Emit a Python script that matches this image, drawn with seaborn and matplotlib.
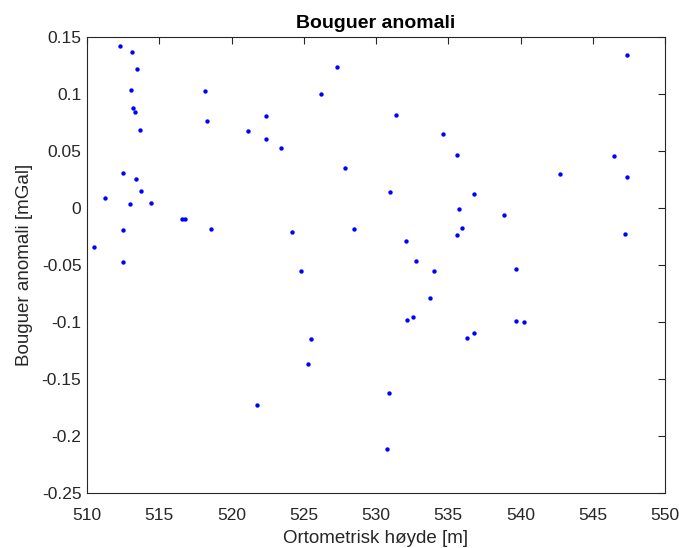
import matplotlib
matplotlib.use("Agg")
import matplotlib.pyplot as plt
import seaborn as sns
import pandas as pd
from matplotlib.ticker import FixedLocator

hoyde = [512.26, 513.11, 513.44, 513.07, 513.18, 513.30, 513.69, 512.47, 513.41, 513.71,
         511.27, 512.98, 514.41, 516.60, 516.80, 518.60, 512.49, 510.48, 512.49, 518.14,
         518.30, 521.16, 522.36, 522.39, 523.43, 526.17, 527.28, 524.21, 524.81, 547.39,
         531.36, 534.61, 535.58, 546.47, 527.88, 542.73, 547.37, 530.95, 536.80, 535.72,
         538.86, 528.50, 535.95, 535.58, 547.21, 532.05, 532.77, 534.03, 539.69, 533.76,
         532.17, 532.54, 536.30, 536.76, 539.69, 540.26, 530.88, 530.76, 525.50, 525.32,
         521.76]
anomali = [0.1418, 0.1368, 0.1219, 0.1035, 0.0877, 0.0842, 0.0681, 0.0307, 0.0254, 0.0152,
           0.0085, 0.0038, 0.0041, -0.0097, -0.0097, -0.0187, -0.0193, -0.0345, -0.0474, 0.1029,
           0.0766, 0.0673, 0.0810, 0.0602, 0.0529, 0.1003, 0.1240, -0.0213, -0.0556, 0.1339,
           0.0818, 0.0649, 0.0468, 0.0459, 0.0348, 0.0298, 0.0275, 0.0137, 0.0125, -0.0009,
           -0.0059, -0.0181, -0.0178, -0.0237, -0.0225, -0.0289, -0.0468, -0.0553, -0.0532, -0.0787,
           -0.0980, -0.0959, -0.1138, -0.1094, -0.0994, -0.1003, -0.1620, -0.2117, -0.1146, -0.1366,
           -0.1731]

x_ticks = [510, 515, 520, 525, 530, 535, 540, 545, 550]
y_ticks = [-0.25, -0.2, -0.15, -0.1, -0.05, 0, 0.05, 0.1, 0.15]
y_tick_labels = ["-0.25", "-0.2", "-0.15", "-0.1", "-0.05", "0", "0.05", "0.1", "0.15"]

sns.set_theme(style="white")
plt.rcParams["font.family"] = ["Liberation Sans", "DejaVu Sans"]

df = pd.DataFrame({"h": hoyde, "a": anomali})

fig = plt.figure(figsize=(6.79, 5.48), dpi=100)
ax = fig.add_axes([87/679, 1 - 493/548, (665 - 87)/679, (493 - 37)/548])
sns.scatterplot(data=df, x="h", y="a", ax=ax, color=(0, 0, 1), s=10, linewidth=0, legend=False)

ax.set_xlim(510, 550)
ax.set_ylim(-0.25, 0.15)
ax.xaxis.set_major_locator(FixedLocator(x_ticks))
ax.set_xticklabels([str(t) for t in x_ticks])
ax.yaxis.set_major_locator(FixedLocator(y_ticks))
ax.set_yticklabels(y_tick_labels)

axc = "#262626"
for sp in ax.spines.values():
    sp.set_visible(True)
    sp.set_color(axc)
    sp.set_linewidth(0.8)
ax.tick_params(direction="in", top=True, right=True, length=5, width=0.8,
               colors=axc, labelsize=12.5, labelcolor=axc)
ax.tick_params(axis="x", pad=11)
ax.tick_params(axis="y", pad=4)
ax.set_xlabel("Ortometrisk høyde [m]", fontsize=13.5, color=axc, labelpad=4.5)
ax.set_ylabel("Bouguer anomali [mGal]", fontsize=13.5, color=axc, labelpad=6)
ax.set_title("Bouguer anomali", fontsize=14, fontweight="bold", color="black", pad=6.5)
ax.grid(False)

fig.savefig("out.png", dpi=100)
